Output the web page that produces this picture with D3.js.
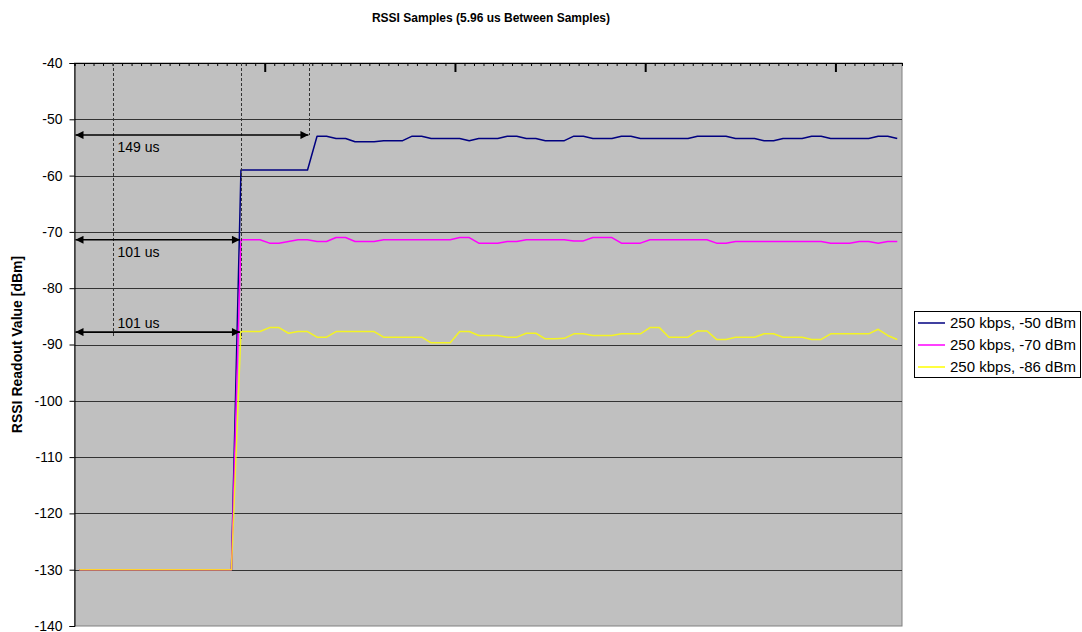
<!DOCTYPE html>
<html>
<head>
<meta charset="utf-8">
<script src="https://cdn.jsdelivr.net/npm/d3@7"></script>
<style>
  body { margin: 0; background: #fff; }
  svg text { font-family: Arial, "Liberation Sans", sans-serif; fill: #000; }
</style>
</head>
<body>
<div id="chart"></div>
<script>
// RSSI readout samples, one value per 5.96 us sample
const sampleIndex = d3.range(87);

const seriesNames = ["250 kbps, -50 dBm", "250 kbps, -70 dBm", "250 kbps, -86 dBm"];
const seriesColors = ["#000080", "#FF00FF", "#FFFF00"];

const blueValues = [
  -130, -130, -130, -130, -130, -130, -130, -130, -130, -130, -130, -130, -130, -130, -130, -130, -130,
  -59, -59, -59, -59, -59, -59, -59, -59,
  -53, -53, -53.4, -53.4, -54, -54, -54, -53.8, -53.8, -53.8,
  -53, -53, -53.4, -53.4, -53.4, -53.4, -53.8, -53.4, -53.4, -53.4,
  -53, -53, -53.4, -53.4, -53.8, -53.8, -53.8, -53, -53, -53.4,
  -53.4, -53.4, -53, -53, -53.4, -53.4, -53.4, -53.4, -53.4, -53.4,
  -53, -53, -53, -53, -53.4, -53.4, -53.4, -53.8, -53.8, -53.4,
  -53.4, -53.4, -53, -53, -53.4, -53.4, -53.4, -53.4, -53.4, -53,
  -53, -53.4
];

const magentaValues = [
  -130, -130, -130, -130, -130, -130, -130, -130, -130, -130, -130, -130, -130, -130, -130, -130, -130,
  -71.4, -71.4, -71.4, -72, -72, -71.7, -71.4, -71.4, -71.7, -71.7,
  -71, -71, -71.7, -71.7, -71.7, -71.4, -71.4, -71.4, -71.4, -71.4,
  -71.4, -71.4, -71.4, -71, -71, -72, -72, -72, -71.7, -71.7,
  -71.4, -71.4, -71.4, -71.4, -71.4, -71.6, -71.6, -71, -71, -71,
  -72, -72, -72, -71.4, -71.4, -71.4, -71.4, -71.4, -71.4, -71.4,
  -72, -72, -71.7, -71.7, -71.7, -71.7, -71.7, -71.7, -71.7, -71.7,
  -71.7, -71.7, -72, -72, -72, -71.7, -71.7, -72, -71.7, -71.7
];

const yellowValues = [
  -130, -130, -130, -130, -130, -130, -130, -130, -130, -130, -130, -130, -130, -130, -130, -130, -130,
  -87.7, -87.7, -87.7, -87, -87, -88, -87.7, -87.7, -88.7, -88.7,
  -87.7, -87.7, -87.7, -87.7, -87.7, -88.7, -88.7, -88.7, -88.7, -88.7,
  -89.7, -89.7, -89.7, -87.7, -87.7, -88.4, -88.4, -88.4, -88.7, -88.7,
  -88, -88, -89, -89, -88.9, -88.1, -88.1, -88.4, -88.4, -88.4,
  -88.1, -88.1, -88.1, -87, -87, -88.7, -88.7, -88.7, -87.6, -87.6,
  -89.1, -89.1, -88.7, -88.7, -88.7, -88.1, -88.1, -88.7, -88.7, -88.7,
  -89.1, -89.1, -88.1, -88.1, -88.1, -88.1, -88.1, -87.3, -88.4, -89.1
];

const yTicks = d3.range(-140, -39, 10);
const majorTicks = [20, 40, 60, 80];

// delay markers: label, end of arrow (in samples), level (dBm)
const markerLabels = ["149 us", "101 us", "101 us"];
const markerEnds = [24.7, 17.5, 17.5];
const markerLevels = [-52.8, -71.4, -87.8];

const W = 1082, H = 632;
const plot = { left: 74.5, right: 902, top: 63, bottom: 626 };

const svg = d3.select("#chart").append("svg")
  .attr("width", W)
  .attr("height", H);

const x = d3.scaleLinear()
  .domain([0, sampleIndex.length])
  .range([plot.left, plot.right]);

const y = d3.scaleLinear()
  .domain([-140, -40])
  .range([plot.bottom, plot.top]);

// title
svg.append("text")
  .attr("x", 491)
  .attr("y", 22)
  .attr("text-anchor", "middle")
  .style("font-size", "12px")
  .style("font-weight", "bold")
  .text("RSSI Samples (5.96 us Between Samples)");

// plot area background
svg.append("rect")
  .attr("x", plot.left)
  .attr("y", plot.top)
  .attr("width", plot.right - plot.left)
  .attr("height", plot.bottom - plot.top)
  .attr("fill", "#C0C0C0")
  .attr("stroke", "#808080")
  .attr("stroke-width", 1);

// horizontal gridlines
svg.append("g")
  .selectAll("line")
  .data(yTicks.filter(d => d > -140 && d < -40))
  .join("line")
  .attr("x1", plot.left)
  .attr("x2", plot.right)
  .attr("y1", d => Math.round(y(d)) + 0.5)
  .attr("y2", d => Math.round(y(d)) + 0.5)
  .attr("stroke", "#333")
  .attr("stroke-width", 1);

// y axis (plain hyphen for the minus sign, like the original)
const yAxis = svg.append("g")
  .attr("transform", "translate(" + plot.left + ",0)")
  .call(d3.axisLeft(y).tickValues(yTicks).tickSize(5).tickPadding(7).tickFormat(d => String(d)));
yAxis.select(".domain").attr("stroke", "#000");
yAxis.selectAll("text")
  .style("font-size", "14px")
  .style("font-family", "Arial, 'Liberation Sans', sans-serif");

svg.append("text")
  .attr("transform", "translate(22," + ((plot.top + plot.bottom) / 2) + ") rotate(-90)")
  .attr("text-anchor", "middle")
  .style("font-size", "14px")
  .style("font-weight", "bold")
  .text("RSSI Readout Value [dBm]");

// category axis along the top, ticks pointing into the plot
svg.append("g")
  .attr("transform", "translate(0," + plot.top + ")")
  .call(d3.axisTop(x).tickValues(d3.range(0, sampleIndex.length + 1)).tickSize(-3).tickFormat(""))
  .call(g => g.select(".domain").attr("stroke", "#000"));

svg.append("g")
  .attr("transform", "translate(0," + plot.top + ")")
  .call(d3.axisTop(x).tickValues(majorTicks).tickSize(-9).tickFormat(""))
  .call(g => g.select(".domain").remove())
  .call(g => g.selectAll("line").attr("stroke-width", 2));

// series lines
const allSeries = [blueValues, magentaValues, yellowValues];
const line = d3.line()
  .x((d, i) => x(sampleIndex[i] + 0.5))
  .y(d => y(d));

svg.append("g")
  .selectAll("path")
  .data(allSeries)
  .join("path")
  .attr("d", d => line(d))
  .attr("fill", "none")
  .attr("stroke", (d, i) => seriesColors[i])
  .attr("stroke-opacity", (d, i) => i === 2 ? 0.82 : 1)
  .attr("stroke-width", 1.5)
  .attr("stroke-linejoin", "round");

// arrow heads
const defs = svg.append("defs");
["start", "end"].forEach(k => {
  defs.append("marker")
    .attr("id", "arrow-" + k)
    .attr("viewBox", "0 0 10 10")
    .attr("refX", k === "end" ? 10 : 0)
    .attr("refY", 5)
    .attr("markerWidth", 10)
    .attr("markerHeight", 8)
    .attr("markerUnits", "userSpaceOnUse")
    .attr("orient", "auto")
    .append("path")
    .attr("d", k === "end" ? "M0,0 L10,5 L0,10 Z" : "M10,0 L0,5 L10,10 Z")
    .attr("fill", "#000");
});

// dashed guide lines
const guides = [
  { at: 4, to: -88.6 },
  { at: markerEnds[1], to: -89 },
  { at: markerEnds[0], to: markerLevels[0] }
];

svg.append("g")
  .selectAll("line")
  .data(guides)
  .join("line")
  .attr("x1", d => Math.round(x(d.at)) + 0.5)
  .attr("x2", d => Math.round(x(d.at)) + 0.5)
  .attr("y1", plot.top)
  .attr("y2", d => y(d.to))
  .attr("stroke", "#333")
  .attr("stroke-width", 1)
  .attr("stroke-dasharray", "3,2");

// double headed arrows and labels
const arrows = svg.append("g");
markerLabels.forEach((label, i) => {
  const yy = y(markerLevels[i]);
  arrows.append("line")
    .attr("x1", x(0) + 1)
    .attr("x2", x(markerEnds[i]) - 1)
    .attr("y1", yy)
    .attr("y2", yy)
    .attr("stroke", "#000")
    .attr("stroke-width", 1.6)
    .attr("marker-start", "url(#arrow-start)")
    .attr("marker-end", "url(#arrow-end)");
  arrows.append("text")
    .attr("x", x(4) + 5)
    .attr("y", i === 2 ? yy - 4 : yy + 17)
    .style("font-size", "14px")
    .text(label);
});

// legend
const legend = svg.append("g").attr("transform", "translate(914,311)");
legend.append("rect")
  .attr("x", 0.5)
  .attr("y", 0.5)
  .attr("width", 166)
  .attr("height", 66)
  .attr("fill", "#fff")
  .attr("stroke", "#000");

const rows = legend.selectAll(".row")
  .data(seriesNames)
  .join("g")
  .attr("class", "row")
  .attr("transform", (d, i) => "translate(0," + (12 + i * 22) + ")");

rows.append("line")
  .attr("x1", 4)
  .attr("x2", 31)
  .attr("y1", 0)
  .attr("y2", 0)
  .attr("stroke", (d, i) => seriesColors[i])
  .attr("stroke-width", 1.5);

rows.append("text")
  .attr("x", 36)
  .attr("y", 0)
  .attr("dy", "0.35em")
  .style("font-size", "15px")
  .text(d => d);
</script>
</body>
</html>
